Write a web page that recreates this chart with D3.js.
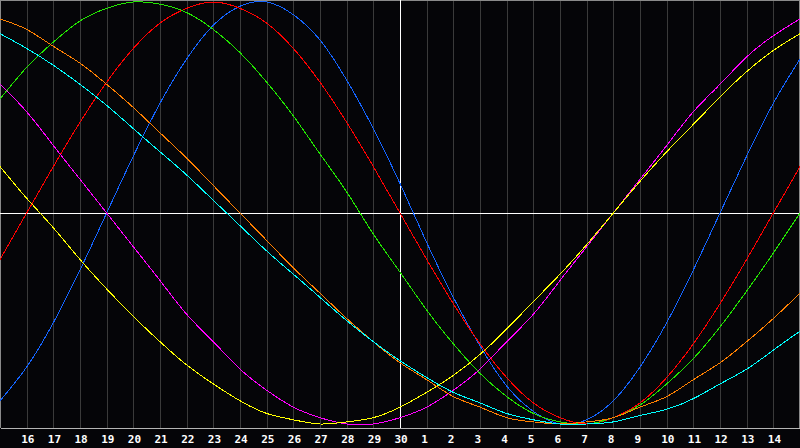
<!DOCTYPE html>
<html>
<head>
<meta charset="utf-8">
<script src="https://cdn.jsdelivr.net/npm/d3@7"></script>
<style>
  html, body { margin: 0; padding: 0; background: #050508; }
  svg { display: block; }
</style>
</head>
<body>
<svg id="chart" width="800" height="448"></svg>
<script>
// Day labels (positions 1..29 of the 30-day window: 15th .. 15th)
const dayLabels = ["16","17","18","19","20","21","22","23","24","25","26","27","28","29","30",
                   "1","2","3","4","5","6","7","8","9","10","11","12","13","14"];
const todayIndex = 15; // "30"

// Cycle values (percent) for each day position 0..30
const physical     = [-89,-73,-52,-27,0,27,52,73,89,98,100,94,82,63,40,14,-14,-40,-63,-82,-94,-100,-98,-89,-73,-52,-27,0,27,52,73];
const emotional    = [-22,0,22,43,62,78,90,97,100,97,90,78,62,43,22,0,-22,-43,-62,-78,-90,-97,-100,-97,-90,-78,-62,-43,-22,0,22];
const intellectual = [54,69,81,91,97,100,99,95,87,76,62,46,28,10,-10,-28,-46,-62,-76,-87,-95,-99,-100,-97,-91,-81,-69,-54,-37,-19,0];
const intuitive    = [61,48,32,16,0,-16,-32,-48,-61,-74,-84,-92,-97,-100,-100,-97,-92,-84,-74,-61,-48,-32,-16,0,16,32,48,61,74,84,92];
const aesthetic    = [22,7,-7,-22,-36,-49,-61,-72,-81,-89,-95,-98,-100,-99,-97,-92,-85,-77,-67,-55,-42,-29,-15,0,15,29,42,55,67,77,85];
const awareness    = [92,87,79,71,61,50,38,26,13,0,-13,-26,-38,-50,-61,-71,-79,-87,-92,-97,-99,-100,-99,-97,-92,-87,-79,-71,-61,-50,-38];
const spiritual    = [85,78,70,61,51,40,29,18,6,-6,-18,-29,-40,-51,-61,-70,-78,-85,-90,-95,-98,-100,-100,-99,-96,-93,-88,-81,-74,-65,-56];

const seriesNames  = ["physical","emotional","intellectual","intuitive","aesthetic","awareness","spiritual"];
const seriesValues = [physical, emotional, intellectual, intuitive, aesthetic, awareness, spiritual];
const seriesColors = ["#1464ff","#ff0000","#22e600","#ff00ff","#ffff00","#ff8000","#00ffff"];

const W = 800, H = 448, plotBottom = 428;
const svg = d3.select("#chart");

svg.append("rect").attr("width", W).attr("height", H).attr("fill", "#050508");

const x = d3.scaleLinear().domain([0, 30]).range([0, W]);
const y = d3.scaleLinear().domain([-100, 100]).range([424, 2]);

// Grid (vertical day lines) via axis
const gridAxis = d3.axisBottom(x)
  .tickValues(d3.range(1, 30))
  .tickSize(plotBottom)
  .tickFormat("");
const grid = svg.append("g").attr("transform", "translate(0,0)").call(gridAxis);
grid.select(".domain").remove();
grid.selectAll(".tick line")
  .attr("stroke", "#3a3a3a")
  .attr("shape-rendering", "crispEdges");

// Borders
svg.append("line").attr("x1", 0.5).attr("x2", 0.5).attr("y1", 0).attr("y2", plotBottom)
  .attr("stroke", "#8a8a8a").attr("shape-rendering", "crispEdges");
svg.append("line").attr("x1", W - 0.5).attr("x2", W - 0.5).attr("y1", 0).attr("y2", plotBottom)
  .attr("stroke", "#8a8a8a").attr("shape-rendering", "crispEdges");
svg.append("line").attr("x1", 0).attr("x2", W).attr("y1", 0.5).attr("y2", 0.5)
  .attr("stroke", "#8a8a8a").attr("shape-rendering", "crispEdges");

// Zero line and today line
svg.append("line").attr("x1", 0).attr("x2", W).attr("y1", y(0) + 0.5).attr("y2", y(0) + 0.5)
  .attr("stroke", "#ffffff").attr("shape-rendering", "crispEdges");
svg.append("line").attr("x1", x(todayIndex) + 0.5).attr("x2", x(todayIndex) + 0.5)
  .attr("y1", 0).attr("y2", plotBottom)
  .attr("stroke", "#ffffff").attr("shape-rendering", "crispEdges");

// Curves
const line = d3.line()
  .x((d, i) => x(i))
  .y(d => y(d))
  .curve(d3.curveNatural);

svg.append("g").selectAll("path")
  .data(seriesValues)
  .join("path")
  .attr("d", d => line(d))
  .attr("fill", "none")
  .attr("stroke", (d, i) => seriesColors[i])
  .attr("stroke-width", 1)
  .attr("shape-rendering", "crispEdges");

// Bottom axis with labels
const axis = d3.axisBottom(x)
  .tickValues(d3.range(1, 30))
  .tickSize(0)
  .tickFormat(i => dayLabels[i - 1]);
const ax = svg.append("g").attr("transform", `translate(0,${plotBottom})`).call(axis);
ax.select(".domain")
  .attr("stroke", "#b4b4b4")
  .attr("shape-rendering", "crispEdges");
ax.selectAll(".tick text")
  .attr("fill", "#ffffff")
  .attr("font-family", "DejaVu Sans Mono, monospace")
  .attr("font-weight", "bold")
  .attr("font-size", "11px")
  .attr("text-anchor", "start")
  .attr("x", -6)
  .attr("y", 15)
  .attr("dy", 0);
</script>
</body>
</html>
